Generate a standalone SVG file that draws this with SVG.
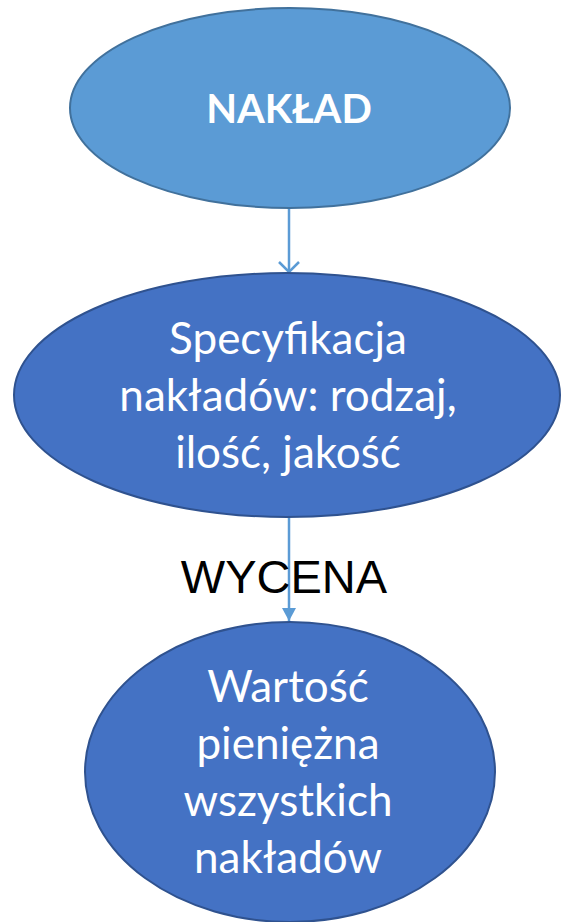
<svg xmlns="http://www.w3.org/2000/svg" width="562" height="922" viewBox="0 0 562 922">
<style>
.lbl{font-family:Lato,"Open Sans","Liberation Sans",sans-serif;fill:#fff;text-anchor:middle}
.con{stroke:#5B9BD5;stroke-width:2.5;fill:none}
</style>
<defs>
<marker id="open" markerWidth="24" markerHeight="24" refX="11" refY="11" orient="auto" markerUnits="userSpaceOnUse">
<path d="M1,1 L11,11 L1,21" fill="none" stroke="#5B9BD5" stroke-width="2.5"/>
</marker>
<marker id="tri" markerWidth="20" markerHeight="20" refX="13" refY="7" orient="auto" markerUnits="userSpaceOnUse">
<path d="M0,0 L13,7 L0,14 Z" fill="#5B9BD5"/>
</marker>
</defs>
<rect width="562" height="922" fill="#fff"/>
<g id="connectors">
<line class="con" x1="289" y1="208" x2="289" y2="272" marker-end="url(#open)"/>
<line class="con" x1="289" y1="517" x2="289" y2="621" marker-end="url(#tri)"/>
</g>
<g id="naklad">
<ellipse cx="290" cy="108" rx="220" ry="100" fill="#5B9BD5" stroke="#41719C" stroke-width="2"/>
<text class="lbl" x="289" y="123" font-size="40" font-weight="bold">NAKŁAD</text>
</g>
<g id="specyfikacja">
<ellipse cx="287" cy="395" rx="273" ry="122" fill="#4472C4" stroke="#2F528F" stroke-width="2"/>
<text class="lbl" font-size="44"><tspan x="288" y="354">Specyfikacja</tspan><tspan x="288" y="411">nakładów: rodzaj,</tspan><tspan x="288" y="468">ilość, jakość</tspan></text>
</g>
<g id="wycena-label">
<text x="284" y="593" font-family="'Liberation Sans',Arial,sans-serif" font-size="47" fill="#000" text-anchor="middle">WYCENA</text>
</g>
<g id="wartosc">
<ellipse cx="290" cy="772" rx="205" ry="150" fill="#4472C4" stroke="#2F528F" stroke-width="2"/>
<text class="lbl" font-size="44"><tspan x="288" y="702">Wartość</tspan><tspan x="288" y="759">pieniężna</tspan><tspan x="288" y="816">wszystkich</tspan><tspan x="288" y="873">nakładów</tspan></text>
</g>
</svg>
